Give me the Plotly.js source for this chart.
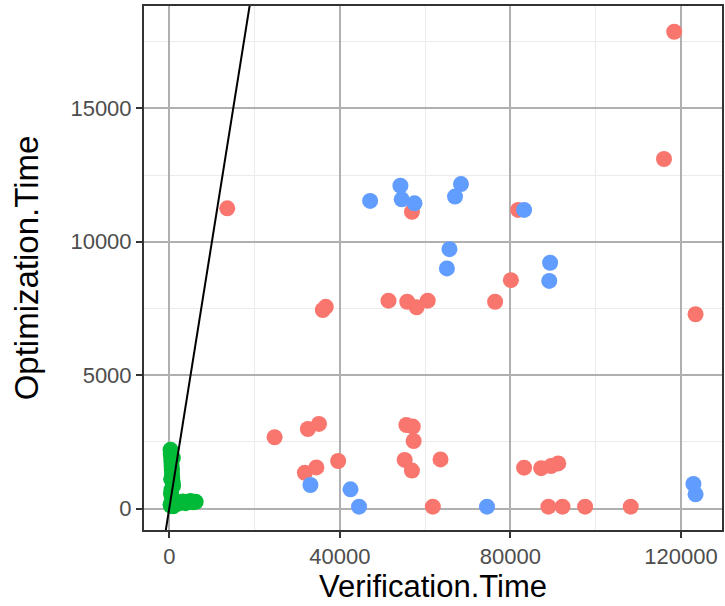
<!DOCTYPE html>
<html>
<head>
<meta charset="utf-8">
<script src="https://cdn.plot.ly/plotly-3.0.1.min.js"></script>
<style>
  html, body { margin: 0; padding: 0; background: #ffffff; }
  #chart { width: 725px; height: 606px; }
</style>
</head>
<body>
<div id="chart"></div>
<script>
// Red group (Verification.Time, Optimization.Time)
const redX = [13600, 118400, 116000, 123400, 81800, 56900, 80100, 76400, 51400, 55800, 58000, 60600,
  36000, 36700, 24700, 32500, 35100, 31800, 34500, 39600, 55600, 57100, 57300, 55200, 56900, 63600,
  61800, 83200, 87200, 89500, 91200, 88900, 92200, 97500, 108200];
const redY = [11250, 17870, 13100, 7280, 11190, 11120, 8560, 7750, 7790, 7750, 7540, 7790,
  7440, 7560, 2670, 2980, 3170, 1340, 1540, 1780, 3130, 3070, 2530, 1820, 1420, 1840,
  70, 1530, 1510, 1590, 1690, 70, 70, 70, 70];

// Green group
const greenX = [300, 350, 450, 500, 550, 600, 650, 700, 800, 900, 500, 400, 650, 750, 300, 450, 600, 850,
  1000, 1200, 1500, 2000, 2600, 3200, 3800, 4400, 5000, 5600, 6200, 400, 900, 1300];
const greenY = [2200, 2050, 1900, 1750, 1600, 1450, 1300, 1150, 1000, 850, 700, 550, 400, 250, 150, 1100, 1500, 1900,
  300, 200, 250, 180, 220, 260, 200, 240, 280, 230, 250, 100, 80, 150];

// Blue group
const blueX = [47100, 54200, 54500, 57500, 68400, 67000, 83200, 65700, 65100, 89300, 89100,
  33100, 42500, 44500, 74500, 122900, 123400];
const blueY = [11530, 12100, 11590, 11440, 12160, 11690, 11190, 9720, 9000, 9210, 8530,
  880, 720, 70, 70, 920, 530];

// Reference line y = x
const refLineX = [-10000, 25000];

const xTicks = [0, 40000, 80000, 120000];
const yTicks = [0, 5000, 10000, 15000];

const ptSize = 16;
const traces = [
  { x: redX, y: redY, type: 'scatter', mode: 'markers', name: 'A',
    marker: { color: '#F8766D', size: ptSize, line: { width: 0 } } },
  { x: greenX, y: greenY, type: 'scatter', mode: 'markers', name: 'B',
    marker: { color: '#00BA38', size: ptSize, line: { width: 0 } } },
  { x: blueX, y: blueY, type: 'scatter', mode: 'markers', name: 'C',
    marker: { color: '#619CFF', size: ptSize, line: { width: 0 } } },
  { x: refLineX, y: refLineX, type: 'scatter', mode: 'lines', name: 'y=x',
    line: { color: '#000000', width: 2 } }
];

const axisCommon = {
  showline: true, mirror: true, linecolor: '#333333', linewidth: 2,
  ticks: 'outside', ticklen: 6, tickwidth: 2, tickcolor: '#333333',
  showgrid: true, gridcolor: '#b0b0b0', gridwidth: 2,
  zeroline: false, tickformat: 'd',
  tickfont: { family: 'Liberation Sans, Arial, sans-serif', size: 22, color: '#4d4d4d' }
};

const layout = {
  width: 725, height: 606,
  margin: { l: 144, r: 3, t: 6, b: 76 },
  paper_bgcolor: '#ffffff', plot_bgcolor: '#ffffff',
  showlegend: false,
  xaxis: Object.assign({}, axisCommon, {
    range: [-5920, 129600], tickvals: xTicks, ticktext: xTicks.map(String),
    minor: { dtick: 20000, tick0: 0, showgrid: true, gridcolor: '#ebebeb', gridwidth: 1 },
    title: { text: 'Verification.Time', standoff: 2,
      font: { family: 'Liberation Sans, Arial, sans-serif', size: 31, color: '#000000' } }
  }),
  yaxis: Object.assign({}, axisCommon, {
    range: [-806, 18835], tickvals: yTicks, ticktext: yTicks.map(String),
    minor: { dtick: 2500, tick0: 0, showgrid: true, gridcolor: '#ebebeb', gridwidth: 1 },
    title: { text: 'Optimization.Time', standoff: 22,
      font: { family: 'Liberation Sans, Arial, sans-serif', size: 33, color: '#000000' } }
  })
};

Plotly.newPlot('chart', traces, layout, { staticPlot: true, displayModeBar: false });
</script>
</body>
</html>
